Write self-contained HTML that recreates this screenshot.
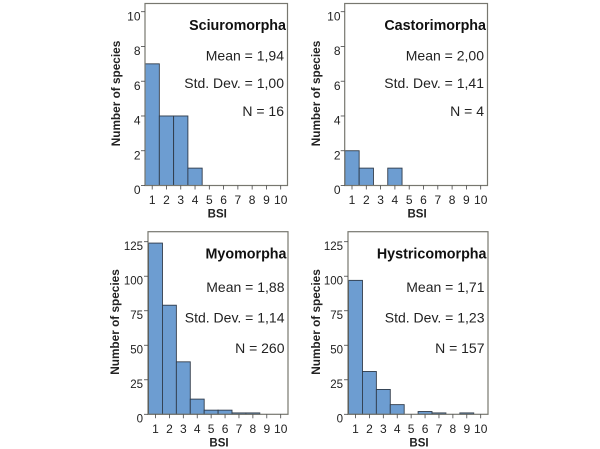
<!DOCTYPE html>
<html>
<head>
<meta charset="utf-8">
<style>
html,body{margin:0;padding:0;background:#fff;}
svg{display:block;font-family:"Liberation Sans",Arial,sans-serif;}
</style>
</head>
<body>
<svg id="chart" width="600" height="449" viewBox="0 0 600 449" xmlns="http://www.w3.org/2000/svg"></svg>
<script>
const categories = [1, 2, 3, 4, 5, 6, 7, 8, 9, 10];
const sciuromorphaValues = [7, 4, 4, 1, 0, 0, 0, 0, 0, 0];
const castorimorphaValues = [2, 1, 0, 1, 0, 0, 0, 0, 0, 0];
const myomorphaValues = [124, 79, 38, 11, 3, 3, 1, 1, 0, 0];
const hystricomorphaValues = [97, 31, 18, 7, 0, 2, 1, 0, 1, 0];
const smallTicks = [0, 2, 4, 6, 8, 10];
const largeTicks = [0, 25, 50, 75, 100, 125];

const panels = [
  {id:'sciuromorpha', title:'Sciuromorpha', stats:['Mean = 1,94','Std. Dev. = 1,00','N = 16'], values:sciuromorphaValues, ticks:smallTicks,
   l:145, r:287.5, t:3.5, b:185.5, y0:185.5, yMaxPos:11.7, x1:152.2, x10:280.7, right:284, tY:30, sY:[60.5,88,116], ylx:140.5, ytx:127, yfs:12, ydy:8.7},
  {id:'castorimorpha', title:'Castorimorpha', stats:['Mean = 2,00','Std. Dev. = 1,41','N = 4'], values:castorimorphaValues, ticks:smallTicks,
   l:344.7, r:487.5, t:3.5, b:185.5, y0:185.5, yMaxPos:11.7, x1:352, x10:480.7, right:484, tY:30, sY:[60.5,88,116], ylx:340.5, ytx:327, yfs:12, ydy:8.7},
  {id:'myomorpha', title:'Myomorpha', stats:['Mean = 1,88','Std. Dev. = 1,14','N = 260'], values:myomorphaValues, ticks:largeTicks,
   l:148, r:288, t:231.7, b:414.3, y0:414.3, yMaxPos:241.7, x1:155.5, x10:280.7, right:284.5, tY:258.5, sY:[292,322.5,353], ylx:143, ytx:126, yfs:11.5, ydy:8.2},
  {id:'hystricomorpha', title:'Hystricomorpha', stats:['Mean = 1,71','Std. Dev. = 1,23','N = 157'], values:hystricomorphaValues, ticks:largeTicks,
   l:348, r:488, t:231.7, b:414.3, y0:414.3, yMaxPos:241.7, x1:355.5, x10:480.7, right:484.5, tY:258.5, sY:[292,322.5,353], ylx:343, ytx:327, yfs:11.5, ydy:8.2}
];

const svg = document.getElementById('chart');
function make(tag, attrs, parent, text) {
  const el = document.createElementNS('http://www.w3.org/2000/svg', tag);
  for (const k in attrs) el.setAttribute(k, attrs[k]);
  if (text !== undefined) el.textContent = text;
  parent.appendChild(el);
  return el;
}

panels.forEach(function (p) {
  const maxTick = p.ticks[p.ticks.length - 1];
  const xScale = function (v) { return p.x1 + (v - categories[0]) * (p.x10 - p.x1) / (categories[categories.length - 1] - categories[0]); };
  const yScale = function (v) { return p.y0 - v * (p.y0 - p.yMaxPos) / maxTick; };
  const halfBin = (p.x10 - p.x1) / 18;

  const g = make('g', {}, svg);
  
  

  p.values.forEach(function (v, i) {
    if (v <= 0) return;
    const c = categories[i];
    const bar = make('rect', {x:xScale(c) - halfBin, y:yScale(v), width:halfBin * 2, height:p.y0 - yScale(v), fill:'#6d9dd1', stroke:'#2f3b4a', 'stroke-width':0.9}, g);
    
    
  });

  const frame = make('rect', {x:p.l, y:p.t, width:p.r - p.l, height:p.b - p.t, fill:'none', stroke:'#77776f', 'stroke-width':1.2}, g);
  
  

  p.ticks.forEach(function (t) {
    const y = yScale(t);
    const tick = make('line', {x1:p.l - 4, x2:p.l, y1:y, y2:y, stroke:'#444', 'stroke-width':0.8}, g);
    
    
    const label = make('text', {x:p.ylx, y:y + p.ydy, 'text-anchor':'end', 'font-size':p.yfs, fill:'#222'}, g, String(t));
    
    
  });

  categories.forEach(function (c) {
    const x = xScale(c);
    const tick = make('line', {x1:x, x2:x, y1:p.b, y2:p.b + 4, stroke:'#444', 'stroke-width':0.8}, g);
    
    
    const label = make('text', {x:x, y:p.b + 18.7, 'text-anchor':'middle', 'font-size':12, fill:'#222'}, g, String(c));
    
    
  });

  const xTitle = make('text', {x:(p.l + p.r) / 2 + 1, y:p.b + 32, 'text-anchor':'middle', 'font-size':11.5, 'font-weight':'bold', fill:'#222'}, g, 'BSI');
  
  

  const cy = (p.t + p.b) / 2 - 1;
  const yTitle = make('text', {x:0, y:0, transform:'translate(' + (p.ytx - 7) + ',' + cy + ') rotate(-90)', 'text-anchor':'middle', 'font-size':11.8, 'font-weight':'bold', fill:'#222'}, g, 'Number of species');
  
  

  const title = make('text', {x:p.right + 2, y:p.tY, 'text-anchor':'end', 'font-size':14.3, 'font-weight':'bold', fill:'#111'}, g, p.title);
  
  

  p.stats.forEach(function (s, i) {
    const stat = make('text', {x:p.right, y:p.sY[i], 'text-anchor':'end', 'font-size':14, fill:'#222'}, g, s);
    
    
  });
});
</script>
</body>
</html>
